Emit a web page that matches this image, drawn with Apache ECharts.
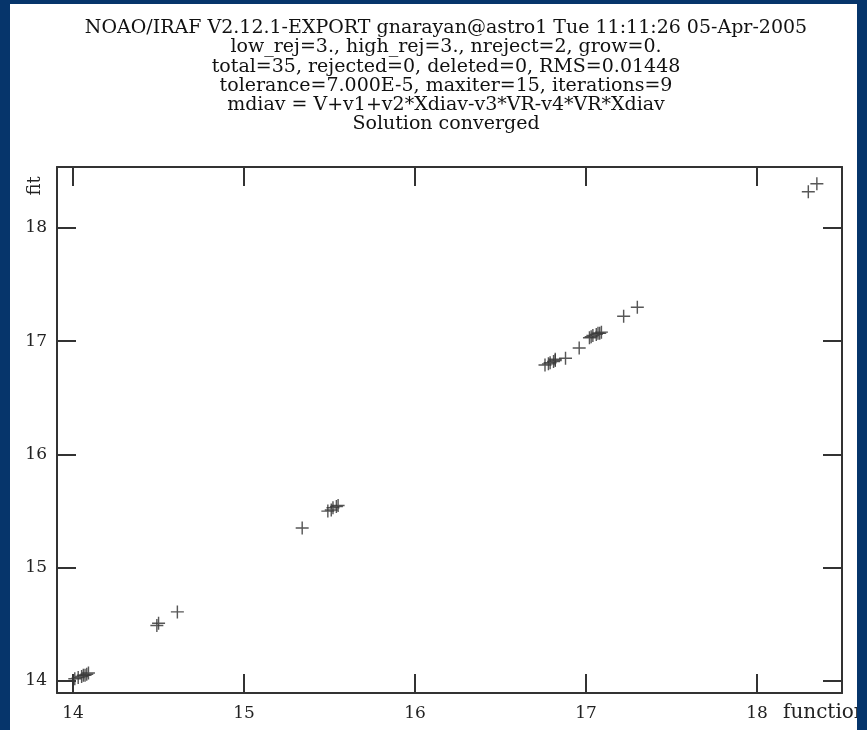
<!DOCTYPE html>
<html>
<head>
<meta charset="utf-8">
<script src="https://cdn.jsdelivr.net/npm/echarts@6/dist/echarts.min.js"></script>
<style>
  html, body { margin: 0; padding: 0; background: #06356b; }
  #main { position: absolute; left: 10px; top: 4px; width: 847px; height: 726px; background: #fff; }
</style>
</head>
<body>
<div id="main"></div>
<script>
// header lines printed above the plot
const headerLines = [
  "NOAO/IRAF V2.12.1-EXPORT gnarayan@astro1 Tue 11:11:26 05-Apr-2005",
  "low_rej=3., high_rej=3., nreject=2, grow=0.",
  "total=35, rejected=0, deleted=0, RMS=0.01448",
  "tolerance=7.000E-5, maxiter=15, iterations=9",
  "mdiav = V+v1+v2*Xdiav-v3*VR-v4*VR*Xdiav",
  "Solution converged"
];

// tick values for both axes
const xTicks = [14, 15, 16, 17, 18];
const yTicks = [14, 15, 16, 17, 18];

// x = function, y = fit (35 points)
const funcVals = [
  14.01, 14.03, 14.05, 14.06, 14.07, 14.08, 14.09,
  14.49, 14.50, 14.61,
  15.34, 15.49, 15.51, 15.52, 15.54, 15.55,
  16.76, 16.78, 16.79, 16.81, 16.82, 16.82, 16.88, 16.96,
  17.02, 17.03, 17.04, 17.06, 17.07, 17.08, 17.09, 17.22, 17.30,
  18.30, 18.35
];
const fitVals = [
  14.02, 14.03, 14.04, 14.05, 14.05, 14.06, 14.07,
  14.49, 14.51, 14.61,
  15.35, 15.50, 15.51, 15.53, 15.54, 15.55,
  16.79, 16.80, 16.81, 16.82, 16.83, 16.84, 16.85, 16.94,
  17.03, 17.04, 17.05, 17.06, 17.07, 17.07, 17.08, 17.22, 17.30,
  18.32, 18.39
];

const points = funcVals.map((v, i) => [v, fitVals[i]]);

const serif = "DejaVu Serif";
const ink = "#333";

const plusSymbol = "path://M0,4.45H10V5.55H0Z M4.45,0H5.55V10H4.45Z";

const tickStyle = { show: true, inside: true, length: 19, customValues: xTicks, lineStyle: { color: ink, width: 2 } };

const option = {
  backgroundColor: "#fff",
  animation: false,
  graphic: [
    {
      type: "group",
      children: headerLines.map((t, i) => ({
        type: "text",
        x: 436,
        y: 24 + i * 19.3,
        style: { text: t, fill: "#111", font: "19px '" + serif + "'", align: "center", verticalAlign: "middle" }
      }))
    },
    {
      type: "text",
      x: 25,
      y: 182,
      rotation: Math.PI / 2,
      style: { text: "fit", fill: "#222", font: "18px '" + serif + "'", align: "center", verticalAlign: "middle" }
    }
  ],
  grid: { left: 47, top: 163, width: 785, height: 526, show: false, outerBoundsMode: "none", containLabel: false },
  xAxis: [
    {
      type: "value",
      min: 13.906,
      max: 18.497,
      position: "bottom",
      name: "function",
      nameLocation: "end",
      nameGap: -59,
      nameTextStyle: { fontFamily: serif, fontSize: 20, color: "#222", align: "left", verticalAlign: "top", padding: [10, 0, 0, 0] },
      axisLine: { show: true, onZero: false, lineStyle: { color: ink, width: 2 } },
      axisTick: tickStyle,
      axisLabel: { customValues: xTicks, margin: 12, fontFamily: serif, fontSize: 17, color: "#222" },
      splitLine: { show: false }
    },
    {
      type: "value",
      min: 13.906,
      max: 18.497,
      position: "top",
      axisLine: { show: true, onZero: false, lineStyle: { color: ink, width: 2 } },
      axisTick: tickStyle,
      axisLabel: { show: false },
      splitLine: { show: false }
    }
  ],
  yAxis: [
    {
      type: "value",
      min: 13.894,
      max: 18.538,
      position: "left",
      axisLine: { show: true, onZero: false, lineStyle: { color: ink, width: 2 } },
      axisTick: Object.assign({}, tickStyle, { customValues: yTicks }),
      axisLabel: { customValues: yTicks, margin: 10, fontFamily: serif, fontSize: 17, color: "#222" },
      splitLine: { show: false }
    },
    {
      type: "value",
      min: 13.894,
      max: 18.538,
      position: "right",
      axisLine: { show: true, onZero: false, lineStyle: { color: ink, width: 2 } },
      axisTick: Object.assign({}, tickStyle, { customValues: yTicks }),
      axisLabel: { show: false },
      splitLine: { show: false }
    }
  ],
  series: [
    {
      type: "scatter",
      xAxisIndex: 0,
      yAxisIndex: 0,
      data: points,
      symbol: plusSymbol,
      symbolSize: 13,
      itemStyle: { color: "#3a3a3a", opacity: 0.85 }
    }
  ]
};

const myChart = echarts.init(document.getElementById("main"));
myChart.setOption(option);
</script>
</body>
</html>
